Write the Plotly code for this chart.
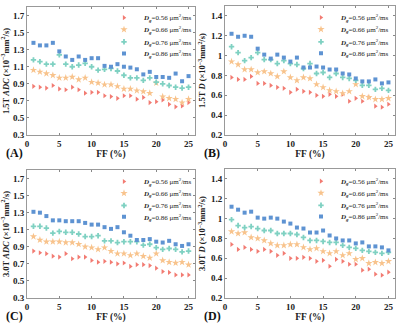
import plotly.graph_objects as go

FF = list(range(1, 26))

labels = ["0.56", "0.66", "0.76", "0.86"]

A_red = [0.87, 0.86, 0.85, 0.88, 0.84, 0.83, 0.86, 0.83, 0.79, 0.80, 0.80, 0.76, 0.75, 0.73, 0.76, 0.76, 0.72, 0.74, 0.68, 0.69, 0.71, 0.66, 0.63, 0.64, 0.68]
A_orange = [1.06, 1.04, 1.02, 1.00, 0.97, 0.97, 0.98, 0.95, 0.97, 0.92, 0.91, 0.89, 0.89, 0.87, 0.84, 0.84, 0.82, 0.81, 0.79, 0.91, 0.75, 0.73, 0.72, 0.68, 0.72]
A_cyan = [1.18, 1.16, 1.13, 1.13, 1.24, 1.13, 1.10, 1.12, 1.14, 1.10, 1.06, 1.07, 1.08, 1.05, 1.00, 0.97, 0.97, 0.94, 0.97, 0.92, 0.90, 0.88, 0.86, 0.85, 0.86]
A_blue = [1.38, 1.35, 1.35, 1.38, 1.28, 1.22, 1.18, 1.22, 1.18, 1.20, 1.20, 1.11, 1.10, 1.13, 1.10, 1.09, 1.07, 1.01, 1.04, 0.98, 0.98, 0.97, 1.02, 0.93, 0.99]

B_red = [0.78, 0.76, 0.76, 0.79, 0.72, 0.72, 0.70, 0.68, 0.67, 0.63, 0.66, 0.64, 0.63, 0.60, 0.59, 0.61, 0.59, 0.61, 0.54, 0.57, 0.54, 0.58, 0.49, 0.48, 0.51]
B_orange = [0.94, 0.91, 0.86, 0.86, 0.83, 0.84, 0.82, 0.79, 0.84, 0.78, 0.75, 0.78, 0.77, 0.71, 0.68, 0.65, 0.64, 0.62, 0.64, 0.71, 0.59, 0.58, 0.56, 0.56, 0.57]
B_cyan = [1.09, 1.03, 0.95, 0.98, 1.03, 0.96, 0.96, 0.92, 0.95, 0.92, 0.91, 0.87, 0.92, 0.82, 0.83, 0.78, 0.82, 0.78, 0.77, 0.75, 0.70, 0.70, 0.66, 0.67, 0.65]
B_blue = [1.22, 1.19, 1.20, 1.19, 1.07, 1.01, 0.97, 1.01, 0.98, 0.94, 0.98, 0.88, 0.88, 0.89, 0.88, 0.86, 0.86, 0.82, 0.81, 0.77, 0.74, 0.74, 0.76, 0.72, 0.73]

C_red = [0.85, 0.83, 0.82, 0.79, 0.78, 0.82, 0.76, 0.78, 0.78, 0.74, 0.72, 0.73, 0.72, 0.70, 0.71, 0.67, 0.69, 0.69, 0.68, 0.65, 0.61, 0.60, 0.57, 0.57, 0.57]
C_orange = [1.02, 0.98, 0.96, 0.96, 0.96, 0.95, 0.95, 0.93, 0.90, 0.89, 0.87, 0.89, 0.85, 0.82, 0.82, 0.80, 0.82, 0.79, 0.77, 0.82, 0.74, 0.72, 0.71, 0.72, 0.69]
C_cyan = [1.14, 1.14, 1.12, 1.06, 1.08, 1.07, 1.07, 1.05, 1.02, 1.02, 1.03, 0.97, 0.97, 0.95, 0.96, 0.96, 0.96, 0.92, 0.93, 0.89, 0.87, 0.88, 0.87, 0.84, 0.85]
C_blue = [1.31, 1.30, 1.26, 1.21, 1.21, 1.20, 1.20, 1.20, 1.18, 1.16, 1.16, 1.13, 1.11, 1.13, 1.07, 1.03, 0.98, 0.98, 0.99, 0.96, 0.95, 0.97, 0.93, 0.91, 0.93]

D_red = [0.74, 0.69, 0.71, 0.69, 0.67, 0.69, 0.67, 0.63, 0.65, 0.60, 0.60, 0.61, 0.60, 0.57, 0.58, 0.52, 0.59, 0.57, 0.54, 0.54, 0.48, 0.49, 0.44, 0.43, 0.46]
D_orange = [0.87, 0.85, 0.86, 0.81, 0.80, 0.78, 0.75, 0.73, 0.73, 0.74, 0.74, 0.71, 0.69, 0.70, 0.67, 0.65, 0.67, 0.63, 0.65, 0.59, 0.60, 0.55, 0.56, 0.55, 0.57]
D_cyan = [0.99, 0.93, 0.91, 0.92, 0.90, 0.88, 0.88, 0.85, 0.85, 0.85, 0.84, 0.81, 0.78, 0.78, 0.77, 0.76, 0.76, 0.73, 0.71, 0.70, 0.68, 0.67, 0.66, 0.65, 0.66]
D_blue = [1.12, 1.09, 1.06, 1.07, 1.01, 1.00, 1.01, 1.00, 0.97, 0.95, 0.91, 0.90, 0.86, 0.86, 0.88, 0.83, 0.80, 0.78, 0.78, 0.75, 0.76, 0.72, 0.72, 0.71, 0.68]

ytitles = [
    "<b>1.5T <i>ADC</i> (×10<sup>−3</sup>mm<sup>2</sup>/s)</b>",
    "<b>1.5T <i>D</i> (×10<sup>−3</sup>mm<sup>2</sup>/s)</b>",
    "<b>3.0T <i>ADC</i> (×10<sup>−3</sup>mm<sup>2</sup>/s)</b>",
    "<b>3.0T <i>D</i> (×10<sup>−3</sup>mm<sup>2</sup>/s)</b>",
]
panel_tags = ["(A)", "(B)", "(C)", "(D)"]

panels = [
    [A_red, A_orange, A_cyan, A_blue],
    [B_red, B_orange, B_cyan, B_blue],
    [C_red, C_orange, C_cyan, C_blue],
    [D_red, D_orange, D_cyan, D_blue],
]

colors = ["#F27B72", "#F8C38C", "#7FD1C2", "#5E93D2"]
symbols = ["triangle-right", "star", "cross", "square"]
sizes = [4.5, 5.5, 4.5, 4]

W, H = 400, 328
FONT = "Liberation Serif"

# pixel layout of the four panels: (left, right, top, bottom)
boxes = [
    (27, 195, 7, 135),
    (225, 395, 6, 135),
    (27, 195, 170, 298),
    (225, 395, 169, 298),
]
yranges = [[0.3, 1.8], [0.2, 1.5], [0.3, 1.8], [0.2, 1.5]]
yticks = [
    [0.3, 0.5, 0.7, 0.9, 1.1, 1.3, 1.5, 1.7],
    [0.2, 0.4, 0.6, 0.8, 1.0, 1.2, 1.4],
    [0.3, 0.5, 0.7, 0.9, 1.1, 1.3, 1.5, 1.7],
    [0.2, 0.4, 0.6, 0.8, 1.0, 1.2, 1.4],
]
ytext = [
    ["0.3", "0.5", "0.7", "0.9", "1.1", "1.3", "1.5", "1.7"],
    ["0.2", "0.4", "0.6", "0.8", "1", "1.2", "1.4"],
    ["0.3", "0.5", "0.7", "0.9", "1.1", "1.3", "1.5", "1.7"],
    ["0.2", "0.4", "0.6", "0.8", "1", "1.2", "1.4"],
]
xticks = [0, 5, 10, 15, 20, 25]

fig = go.Figure()
layout = dict(
    width=W, height=H,
    margin=dict(l=0, r=0, t=0, b=0, autoexpand=False),
    paper_bgcolor="white", plot_bgcolor="white",
    font=dict(family=FONT, size=9, color="#222"),
    annotations=[],
)

# legend text left positions (px) and row centres
leg_text_x = [144, 341, 144, 341]
leg_rows = [[17.7, 29.5, 41.8, 53.5], [17.5, 29.3, 41.8, 53.3],
            [181.5, 193.2, 205.5, 216.8], [181.2, 193.0, 205.3, 216.5]]

li = 0
for p in range(4):
    l, r, t, b = boxes[p]
    xa = "x" if p == 0 else f"x{p+1}"
    ya = "y" if p == 0 else f"y{p+1}"
    xkey = "xaxis" if p == 0 else f"xaxis{p+1}"
    ykey = "yaxis" if p == 0 else f"yaxis{p+1}"
    layout[xkey] = dict(
        domain=[l / W, r / W], anchor=ya, range=[0, 26],
        tickvals=xticks, ticktext=[f"<b>{v}</b>" for v in xticks],
        ticks="inside", ticklen=2, tickcolor="#888",
        showline=True, linecolor="#999", linewidth=1, mirror="ticks",
        showgrid=False, zeroline=False,
        tickfont=dict(family=FONT, size=9, color="#222"),
        title=dict(text="<b>FF (%)</b>", font=dict(family=FONT, size=9.5, color="#222"), standoff=2),
    )
    layout[ykey] = dict(
        domain=[1 - b / H, 1 - t / H], anchor=xa, range=yranges[p],
        tickvals=yticks[p], ticktext=[f"<b>{s}</b>" for s in ytext[p]],
        ticks="inside", ticklen=2, tickcolor="#888",
        showline=True, linecolor="#999", linewidth=1, mirror="ticks",
        showgrid=False, zeroline=False,
        tickfont=dict(family=FONT, size=9, color="#222"),
        title=dict(text=ytitles[p], font=dict(family=FONT, size=8.5, color="#222"), standoff=3),
    )
    for s in range(4):
        li += 1
        lname = "legend" if li == 1 else f"legend{li}"
        fig.add_trace(go.Scatter(
            x=FF, y=panels[p][s], mode="markers",
            xaxis=xa, yaxis=ya,
            marker=dict(symbol=symbols[s], color=colors[s], size=sizes[s], line=dict(width=0)),
            name=f"<b><i>D</i><sub><i>g</i></sub></b>={labels[s]} μm<sup>2</sup>/ms",
            legend=lname, showlegend=True,
        ))
        layout[lname] = dict(
            x=(leg_text_x[p] - 40) / W, y=1 - leg_rows[p][s] / H,
            xanchor="left", yanchor="middle",
            bgcolor="rgba(0,0,0,0)", borderwidth=0,
            font=dict(family=FONT, size=7, color="#222"),
            itemwidth=30,
        )
    layout["annotations"].append(dict(
        text="<b>" + panel_tags[p] + "</b>", xref="paper", yref="paper",
        x=(l - 23) / W, y=1 - (b + 18) / H, xanchor="left", yanchor="middle",
        showarrow=False, font=dict(family=FONT, size=12, color="#111"),
    ))

fig.update_layout(**layout)
fig.write_html(
    "out.html",
    config={"displayModeBar": False},
    post_script="document.body.style.margin='0';document.body.style.padding='0';",
)
